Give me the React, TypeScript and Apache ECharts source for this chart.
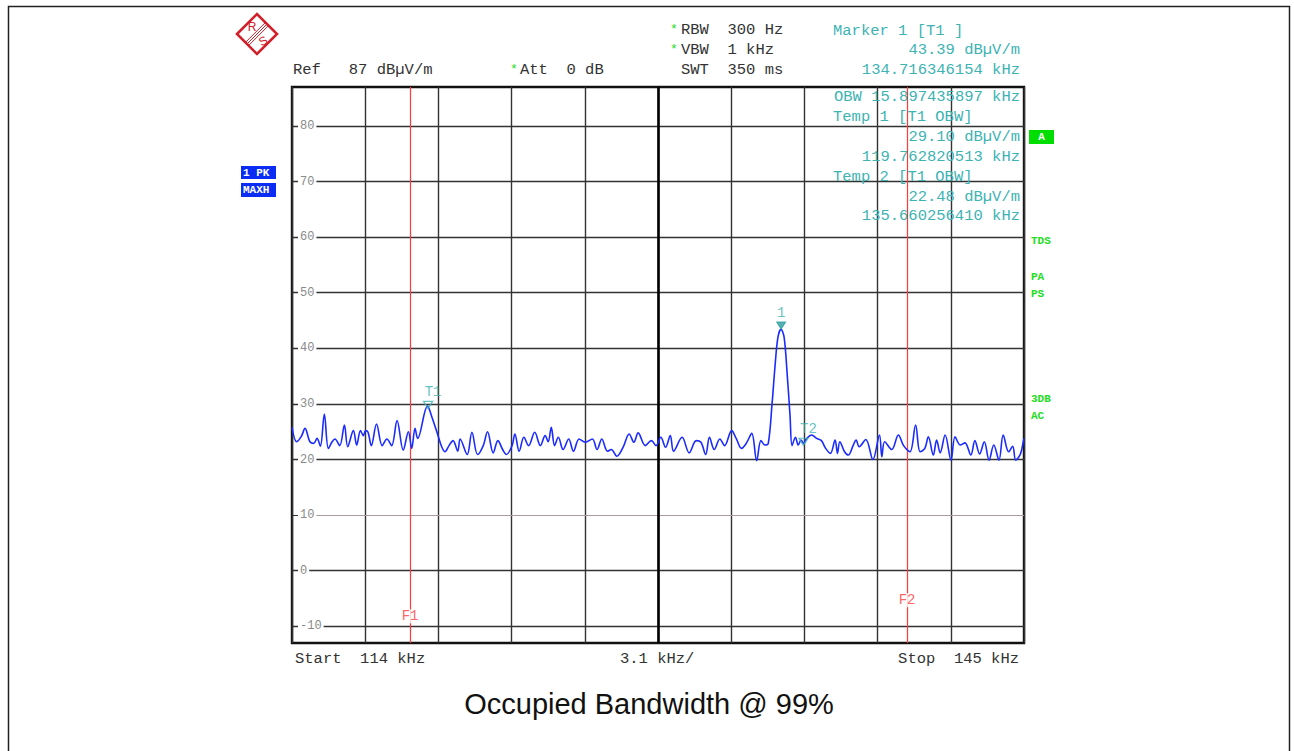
import React, { useEffect, useRef } from "react";
import * as echarts from "echarts";

// ---------- data ----------
const START_KHZ = 114;
const STOP_KHZ = 145;
const REF_LEVEL = 87;
const BOTTOM_LEVEL = -13;
const DIVISIONS = 10;

const levelTicks = [-10, 0, 10, 20, 30, 40, 50, 60, 70, 80];

const freqKHz = [
  114.0, 114.2, 114.4, 114.55, 114.76, 114.92, 115.06, 115.2, 115.37, 115.54,
  115.7, 115.82, 116.02, 116.22, 116.36, 116.6, 116.74, 116.9, 117.02, 117.12,
  117.22, 117.36, 117.58, 117.82, 118.02, 118.22, 118.45, 118.71, 118.93, 119.07,
  119.21, 119.32, 119.74, 119.92, 120.2, 120.34, 120.48, 120.65, 120.82, 121.02,
  121.12, 121.42, 121.62, 121.86, 122.1, 122.28, 122.52, 122.72, 122.92, 123.08,
  123.32, 123.44, 123.62, 123.82, 124.02, 124.28, 124.52, 124.72, 124.85, 124.98,
  125.12, 125.28, 125.48, 125.72, 125.92, 126.16, 126.42, 126.72, 126.92, 127.12,
  127.36, 127.52, 127.76, 128.02, 128.28, 128.48, 128.66, 128.96, 129.22, 129.42,
  129.62, 129.82, 130.02, 130.16, 130.52, 130.82, 131.12, 131.32, 131.52, 131.68,
  131.88, 132.12, 132.32, 132.62, 132.82, 133.04, 133.25, 133.47, 133.68, 133.86,
  134.03, 134.17, 134.33, 134.46, 134.58, 134.71, 134.84, 134.96, 135.09, 135.18,
  135.32, 135.44, 135.56, 135.66, 135.8, 136.01, 136.22, 136.42, 136.6, 136.8,
  137.0, 137.1, 137.2, 137.4, 137.56, 137.77, 137.89, 138.02, 138.3, 138.6,
  138.88, 138.98, 139.1, 139.4, 139.68, 139.9, 140.17, 140.41, 140.6, 140.8,
  140.95, 141.16, 141.3, 141.45, 141.66, 141.91, 142.08, 142.3, 142.5, 142.75,
  142.92, 143.12, 143.32, 143.52, 143.72, 143.94, 144.12, 144.35, 144.52, 144.65,
  144.85, 144.97, 145.0,
];

const levelDbuV = [
  25.8, 23.2, 24.2, 25.6, 23.2, 22.9, 23.8, 22.4, 28.2, 22.0,
  23.2, 23.7, 22.5, 26.2, 22.3, 25.2, 22.6, 25.2, 24.3, 25.2,
  24.9, 22.5, 26.4, 22.5, 23.7, 22.5, 27.0, 21.7, 25.0, 22.0,
  25.6, 23.8, 29.6, 27.7, 24.1, 22.3, 21.4, 22.5, 23.4, 21.5,
  23.7, 20.9, 24.9, 20.9, 22.5, 25.0, 21.2, 23.4, 21.8, 20.9,
  22.5, 24.6, 21.5, 24.0, 22.5, 24.9, 22.5, 24.3, 23.2, 25.8,
  22.5, 24.0, 21.8, 23.7, 21.5, 23.7, 23.1, 23.7, 21.8, 23.7,
  21.5, 21.8, 20.6, 22.2, 24.6, 23.1, 24.8, 22.5, 23.4, 22.5,
  24.0, 22.2, 24.3, 21.5, 24.0, 21.2, 23.4, 23.1, 20.9, 24.0,
  21.8, 23.7, 22.5, 25.2, 23.7, 22.0, 23.0, 24.7, 19.8, 23.4,
  22.6, 22.9, 30.0, 37.0, 42.0, 43.4, 42.0, 36.0, 28.0, 22.5,
  24.0, 22.6, 23.5, 22.9, 23.8, 24.4, 23.8, 23.4, 22.0, 21.1,
  23.5, 21.1, 23.2, 21.4, 20.8, 22.6, 23.5, 22.3, 23.6, 20.0,
  24.4, 20.5, 23.2, 21.8, 24.4, 22.5, 21.4, 26.2, 21.4, 22.0,
  24.1, 20.8, 23.5, 21.2, 24.4, 19.9, 24.1, 22.6, 23.0, 20.8,
  23.4, 21.0, 23.2, 19.9, 22.6, 19.9, 24.4, 21.4, 22.4, 19.9,
  21.0, 23.2, 23.8,
];

// frequency lines
const freqLineNames = ["F1", "F2"];
const freqLineKHz = [119.0, 140.05];
const freqLineLabelLevel = [-8.2, -5.3];

// markers
const markerNames = ["1", "T1", "T2"];
const markerFreqKHz = [134.716346154, 119.762820513, 135.66025641];
const markerLevel = [43.39, 29.1, 22.48];

// ---------- styles ----------
const MONO = "'Liberation Mono', 'DejaVu Sans Mono', monospace";
const TEAL = "#3db3b3";
const DARK = "#333333";
const GREEN = "#22dd22";
const RED = "#ff3a3a";
const BLUE = "#1a2bff";
const FS = 15.5;

const GRID = { left: 292, top: 87, width: 732, height: 556 };

function txt(
  text: string,
  x: number,
  y: number,
  fill: string,
  opts: { size?: number; align?: string; weight?: string; family?: string } = {}
) {
  const size = opts.size ?? FS;
  const align = opts.align ?? "left";
  return {
    type: "text",
    x,
    y,
    z: 100,
    silent: true,
    style: {
      text,
      fill,
      font: `${opts.weight ?? "normal"} ${size}px ${opts.family ?? MONO}`,
      align,
      verticalAlign: "middle",
      textAlign: align,
      textVerticalAlign: "middle",
    },
  };
}

export default function App() {
  const ref = useRef<HTMLDivElement>(null);

  useEffect(() => {
    if (!ref.current) return;
    const chart = echarts.init(ref.current, null, { renderer: "svg" });

    const centerKHz = (START_KHZ + STOP_KHZ) / 2;

    const gridLineData: any[] = [];
    levelTicks.forEach((v) => {
      gridLineData.push({
        yAxis: v,
        lineStyle:
          v === 10
            ? { color: "#a89c9c", width: 1, type: "solid" }
            : { color: DARK, width: 1.4, type: "solid" },
      });
    });
    gridLineData.push({ xAxis: centerKHz, lineStyle: { color: "#000", width: 2.6, type: "solid" } });
    freqLineKHz.forEach((f) => {
      gridLineData.push({ xAxis: f, lineStyle: { color: RED, width: 1.2, type: "solid" } });
    });

    const trace = freqKHz.map((f, i) => [f, levelDbuV[i]]);

    const markerData = markerNames.map((n, i) => ({
      name: n,
      value: [markerFreqKHz[i], markerLevel[i]],
      symbol: "triangle",
      symbolRotate: 180,
      symbolSize: [9, 7],
      symbolOffset: [0, -4],
      itemStyle:
        i === 0
          ? { color: "#2a9d9d", borderColor: "#2a9d9d", borderWidth: 1 }
          : { color: "rgba(255,255,255,0)", borderColor: TEAL, borderWidth: 1.3 },
      label: {
        show: true,
        formatter: n,
        position: "top",
        offset: i === 0 ? [0, 0] : i === 1 ? [5, 0] : [5, 0],
        color: TEAL,
        fontFamily: MONO,
        fontSize: 14,
        distance: 2,
      },
    }));

    const fLabelData = freqLineNames.map((n, i) => ({
      name: n,
      value: [freqLineKHz[i], freqLineLabelLevel[i]],
      label: {
        show: true,
        formatter: n,
        position: "inside",
        color: RED,
        fontFamily: MONO,
        fontSize: 14,
        backgroundColor: "#fff",
        padding: [0, 1],
      },
    }));

    const logo = {
      type: "group",
      x: 257,
      y: 34,
      z: 100,
      children: [
        {
          type: "polygon",
          shape: { points: [[-20, 0], [0, -20], [20, 0], [0, 20]] },
          style: { fill: "none", stroke: "#d0202a", lineWidth: 2.6 },
        },
        ...[-2.2, 0, 2.2].map((o) => ({
          type: "line",
          shape: { x1: -10 + o * 0.707, y1: 10 + o * 0.707, x2: 10 + o * 0.707, y2: -10 + o * 0.707 },
          style: { stroke: "#d0202a", lineWidth: 1 },
        })),
        {
          type: "text",
          x: -5,
          y: -7,
          style: { text: "R", fill: "#d0202a", font: "normal 12px 'Liberation Sans', sans-serif", align: "center", verticalAlign: "middle", textAlign: "center", textVerticalAlign: "middle" },
        },
        {
          type: "text",
          x: 6,
          y: 7,
          rotation: 0.5,
          style: { text: "S", fill: "#d0202a", font: "normal 12px 'Liberation Sans', sans-serif", align: "center", verticalAlign: "middle", textAlign: "center", textVerticalAlign: "middle" },
        },
      ],
    };

    const graphics: any[] = [
      {
        type: "rect",
        z: 0,
        shape: { x: 8.5, y: 6.5, width: 1281, height: 800 },
        style: { fill: "none", stroke: "#222", lineWidth: 1.5 },
        silent: true,
      },
      logo,
      // header left
      txt("Ref   87 dBµV/m", 293, 70, DARK),
      txt("*", 510, 69, GREEN, { size: 13 }),
      txt("Att  0 dB", 520, 70, DARK),
      txt("*", 670, 29, GREEN, { size: 13 }),
      txt("*", 670, 49, GREEN, { size: 13 }),
      txt("RBW  300 Hz", 681, 30, DARK),
      txt("VBW  1 kHz", 681, 50, DARK),
      txt("SWT  350 ms", 681, 70, DARK),
      // marker info
      txt("Marker 1 [T1 ]", 833, 31, TEAL),
      txt("43.39 dBµV/m", 1020, 50, TEAL, { align: "right" }),
      txt("134.716346154 kHz", 1020, 70, TEAL, { align: "right" }),
      txt("OBW 15.897435897 kHz", 1020, 97, TEAL, { align: "right" }),
      txt("Temp 1 [T1 OBW]", 833, 117, TEAL),
      txt("29.10 dBµV/m", 1020, 137, TEAL, { align: "right" }),
      txt("119.762820513 kHz", 1020, 157, TEAL, { align: "right" }),
      txt("Temp 2 [T1 OBW]", 833, 177, TEAL),
      txt("22.48 dBµV/m", 1020, 197, TEAL, { align: "right" }),
      txt("135.660256410 kHz", 1020, 216, TEAL, { align: "right" }),
      // bottom axis texts
      txt("Start  114 kHz", 295, 659, DARK),
      txt("3.1 kHz/", 620, 659, DARK),
      txt("Stop  145 kHz", 1019, 659, DARK, { align: "right" }),
      // left trace info boxes
      { type: "rect", z: 90, shape: { x: 241, y: 166, width: 35, height: 13 }, style: { fill: "#0a2cf5" } },
      txt("1 PK", 243, 173, "#fff", { size: 11, weight: "bold" }),
      { type: "rect", z: 90, shape: { x: 241, y: 183, width: 35, height: 14 }, style: { fill: "#0a2cf5" } },
      txt("MAXH", 243, 190, "#fff", { size: 11, weight: "bold" }),
      // right status
      { type: "rect", z: 90, shape: { x: 1029, y: 130, width: 25, height: 14 }, style: { fill: "#00dd00" } },
      txt("A", 1041.5, 137, "#fff", { size: 11, weight: "bold", align: "center" }),
      txt("TDS", 1031, 241, GREEN, { size: 11, weight: "bold" }),
      txt("PA", 1031, 277, GREEN, { size: 11, weight: "bold" }),
      txt("PS", 1031, 294, GREEN, { size: 11, weight: "bold" }),
      txt("3DB", 1031, 399, GREEN, { size: 11, weight: "bold" }),
      txt("AC", 1031, 416, GREEN, { size: 11, weight: "bold" }),
      // title
      txt("Occupied Bandwidth @ 99%", 649, 704, "#111", {
        size: 29,
        align: "center",
        family: "'Liberation Sans', Arial, sans-serif",
      }),
    ];

    chart.setOption({
      animation: false,
      backgroundColor: "#fff",
      grid: {
        ...GRID,
        show: true,
        borderColor: "#111",
        borderWidth: 2.4,
        backgroundColor: "transparent",
      },
      xAxis: [
        {
          type: "value",
          min: START_KHZ,
          max: STOP_KHZ,
          show: false,
        },
        {
          type: "value",
          min: 0,
          max: DIVISIONS,
          interval: 1,
          axisLine: { show: false },
          axisTick: { show: false },
          axisLabel: { show: false },
          splitLine: { show: true, lineStyle: { color: DARK, width: 1.4 } },
        },
      ],
      yAxis: {
        type: "value",
        min: BOTTOM_LEVEL,
        max: REF_LEVEL,
        z: 2,
        axisLine: { show: false },
        splitLine: { show: false },
        axisTick: {
          show: true,
          inside: true,
          length: 6,
          customValues: levelTicks,
          lineStyle: { color: DARK, width: 1 },
        },
        axisLabel: {
          show: true,
          inside: true,
          customValues: levelTicks,
          margin: 6,
          color: "#8a8a8a",
          fontFamily: MONO,
          fontSize: 12,
          backgroundColor: "#fff",
          padding: [0, 2],
          formatter: (v: number) => String(v),
        },
      },
      graphic: graphics,
      series: [
        {
          type: "line",
          xAxisIndex: 0,
          data: trace,
          z: 3,
          showSymbol: false,
          smooth: 0.35,
          lineStyle: { color: BLUE, width: 1.6 },
          silent: true,
          markLine: {
            silent: true,
            z: 1,
            symbol: ["none", "none"],
            label: { show: false },
            data: gridLineData,
          },
        },
        {
          type: "scatter",
          xAxisIndex: 0,
          z: 4,
          data: markerData,
          silent: true,
        },
        {
          type: "scatter",
          xAxisIndex: 0,
          z: 4,
          symbolSize: 0,
          data: fLabelData,
          silent: true,
        },
      ],
    });

    return () => chart.dispose();
  }, []);

  return (
    <div
      ref={ref}
      style={{ position: "absolute", left: 0, top: 0, width: 1294, height: 751, background: "#fff" }}
    />
  );
}
